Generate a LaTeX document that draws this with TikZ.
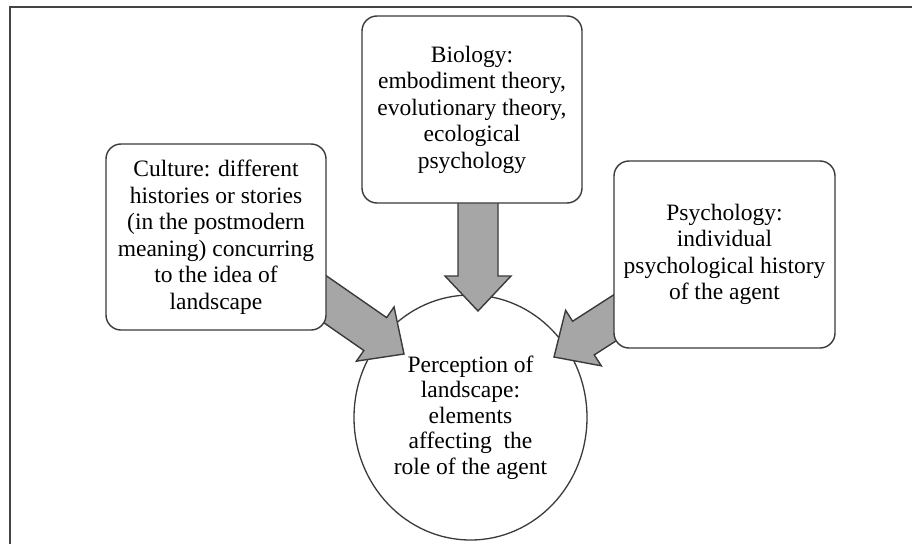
\documentclass[tikz,border=0pt]{standalone}
\usepackage{fontspec}
\setmainfont{Liberation Serif}
\usetikzlibrary{shapes.geometric,calc}
\definecolor{arrowfill}{HTML}{A6A6A6}
\definecolor{linegray}{HTML}{3A3A3A}
\definecolor{framegray}{HTML}{444444}
\newcommand{\blockarrow}[3]{%
  \coordinate (#3h) at ($(#2)!35pt!(#1)$);
  \filldraw[bigarrow] ($(#1)!20pt!90:(#2)$) -- ($(#3h)!20pt!90:(#2)$) -- ($(#3h)!33pt!90:(#2)$) -- (#2)
    -- ($(#3h)!33pt!-90:(#2)$) -- ($(#3h)!20pt!-90:(#2)$) -- ($(#1)!20pt!-90:(#2)$) -- cycle;
}
\tikzset{
  bigarrow/.style={fill=arrowfill, draw=linegray, line width=1.4pt, line join=miter},
  rbox/.style={draw=linegray, fill=white, line width=1.4pt, rounded corners=15pt,
    align=center, inner sep=2pt, font=\fontsize{23.5}{26.5}\selectfont},
  bubble/.style={ellipse, draw=linegray, fill=white, line width=1.3pt,
    align=center, inner sep=0pt, font=\fontsize{23.5}{25.5}\selectfont},
  frame/.style={draw=framegray, line width=2pt}
}
\begin{document}
\begin{tikzpicture}[x=1pt,y=-1pt]
\useasboundingbox (0,0) rectangle (912,543);
\fill[white] (0,0) rectangle (912,543);
\draw[frame] (913,7) -- (9.5,7) -- (9.5,544);

% central ellipse
\node[bubble, minimum width=233pt, minimum height=245pt] (perc) at (470.5,417.5)
  {Perception of\\landscape:\\elements\\affecting\ \ the\\role of the agent};

% arrow end points
\coordinate (cs) at (305.4,285.6);
\coordinate (ct) at (404,354);
\coordinate (bs) at (478,180);
\coordinate (bt) at (478,311);
\coordinate (ps) at (663.3,286.7);
\coordinate (pt) at (554,357);

\blockarrow{cs}{ct}{ca}
\blockarrow{bs}{bt}{ba}
\blockarrow{ps}{pt}{pa}

% boxes
\node[rbox, minimum width=220pt, minimum height=186pt] (cult) at (216,237)
  {Culture: different\\histories or stories\\(in the postmodern\\meaning) concurring\\to the idea of\\landscape};
\node[rbox, minimum width=220pt, minimum height=187pt] (bio) at (472,109.5)
  {Biology:\\embodiment theory,\\evolutionary theory,\\ecological\\psychology};
\node[rbox, minimum width=221pt, minimum height=187pt] (psy) at (724.5,254.5)
  {Psychology:\\individual\\psychological history\\of the agent};
\end{tikzpicture}
\end{document}
